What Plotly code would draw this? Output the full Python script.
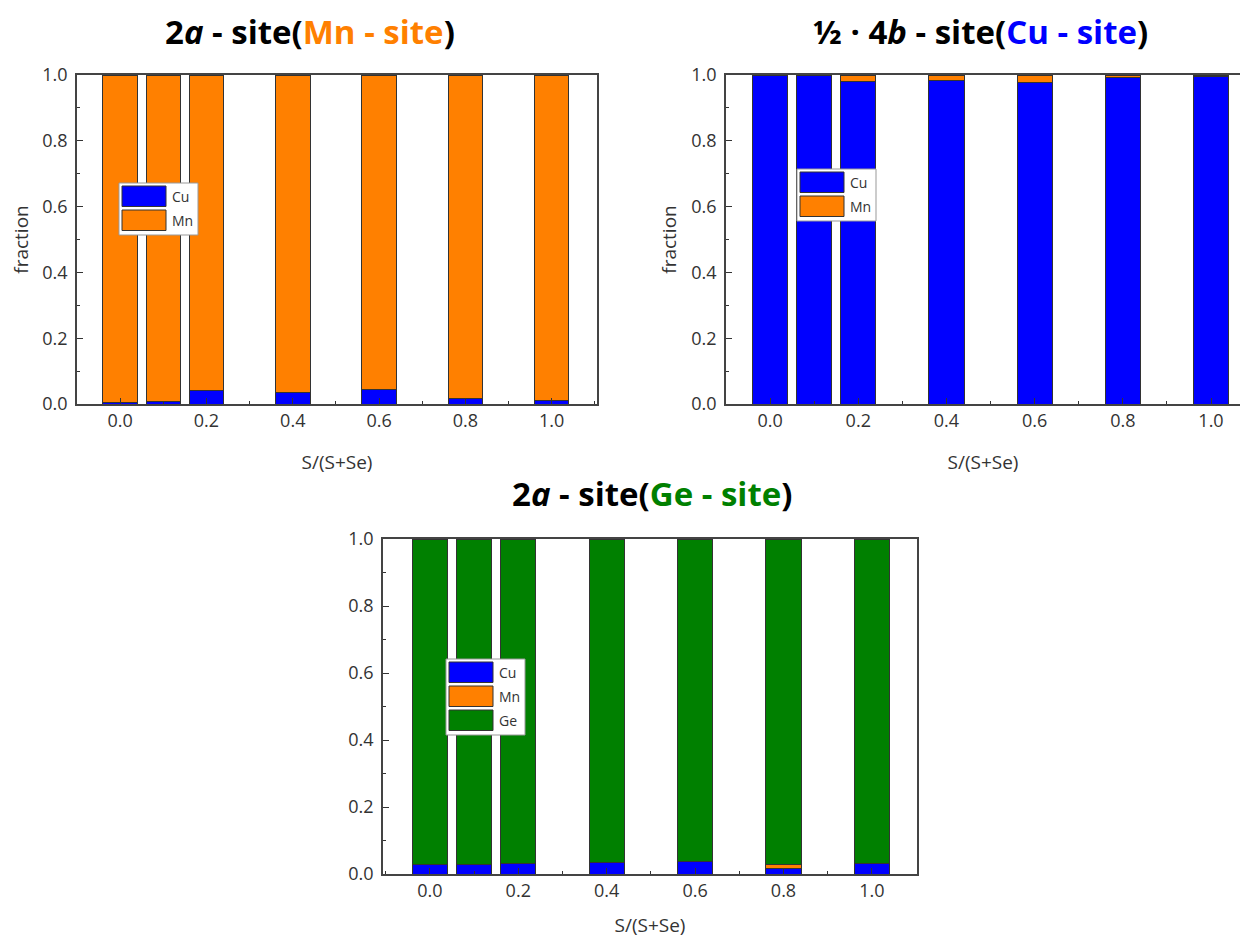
import plotly.graph_objects as go

# ---------------- data ----------------
s_ratio = [0.0, 0.1, 0.2, 0.4, 0.6, 0.8, 1.0]

# 2a site (Mn site)
mn_site_cu = [0.006, 0.007, 0.040, 0.035, 0.043, 0.016, 0.010]
mn_site_mn = [0.994, 0.993, 0.960, 0.965, 0.957, 0.984, 0.990]

# 1/2 * 4b site (Cu site)
cu_site_cu = [0.998, 0.997, 0.981, 0.982, 0.978, 0.991, 0.995]
cu_site_mn = [0.002, 0.003, 0.019, 0.018, 0.022, 0.009, 0.005]

# 2a site (Ge site)
ge_site_cu = [0.029, 0.028, 0.031, 0.033, 0.036, 0.017, 0.031]
ge_site_mn = [0.000, 0.000, 0.000, 0.000, 0.000, 0.010, 0.000]
ge_site_ge = [0.971, 0.972, 0.969, 0.967, 0.964, 0.973, 0.969]

tick_vals = [0.0, 0.2, 0.4, 0.6, 0.8, 1.0]

BLUE = "#0000FF"
ORANGE = "#FF8000"
GREEN = "#008000"
FONT = "Open Sans"
TXT = "#333333"

# the page body has an 8px margin; the figure fits exactly inside it
OFF = 8
W, H = 1232, 930


def fx(px):
    return (px - OFF) / W


def fy(py):
    return 1 - (py - OFF) / H


def px_x(a, b):
    return [max(fx(a), 0.0), min(fx(b), 1.0)]


def px_y(top, bot):
    return [fy(bot), fy(top)]


fig = go.Figure()


def add_bar(x, y, name, color, xa, ya):
    fig.add_trace(go.Bar(
        x=x, y=y, name=name, width=0.08, showlegend=False,
        marker=dict(color=color, line=dict(color="#333333", width=1)),
        xaxis=xa, yaxis=ya,
    ))


add_bar(s_ratio, mn_site_cu, "Cu", BLUE, "x", "y")
add_bar(s_ratio, mn_site_mn, "Mn", ORANGE, "x", "y")

add_bar(s_ratio, cu_site_cu, "Cu", BLUE, "x2", "y2")
add_bar(s_ratio, cu_site_mn, "Mn", ORANGE, "x2", "y2")

add_bar(s_ratio, ge_site_cu, "Cu", BLUE, "x3", "y3")
add_bar(s_ratio, ge_site_mn, "Mn", ORANGE, "x3", "y3")
add_bar(s_ratio, ge_site_ge, "Ge", GREEN, "x3", "y3")

axis_common = dict(
    showline=True, linecolor="#444444", linewidth=1.5,
    ticks="inside", ticklen=6, tickcolor="#333333", tickwidth=1.2,
    showgrid=False, zeroline=False, automargin=False,
    tickfont=dict(family=FONT, size=18, color=TXT),
    tickformat=".1f",
)


def xaxis(domain, rng, anchor, standoff, mirror=True):
    return dict(axis_common, domain=domain, range=rng, anchor=anchor,
                tickvals=tick_vals, mirror=mirror,
                minor=dict(dtick=0.1, tick0=0, ticks="inside", ticklen=3,
                           tickcolor="#333333"),
                title=dict(text="S/(S+Se)", font=dict(family=FONT, size=19, color=TXT),
                           standoff=standoff))


def yaxis(domain, anchor, mirror=True, title="fraction"):
    return dict(axis_common, domain=domain, range=[0, 1], anchor=anchor,
                dtick=0.2, mirror=mirror, ticklabelstandoff=4,
                minor=dict(dtick=0.1, ticks="inside", ticklen=3, tickcolor="#333333"),
                title=dict(text=title, font=dict(family=FONT, size=19, color=TXT),
                           standoff=10))


# right edge of panel 2 is cut by the canvas: compute its visible data limit
p2_x0, p2_unit = 770.0, 441.0
p2_right = (OFF + W - p2_x0) / p2_unit

fig.update_layout(
    width=W, height=H,
    margin=dict(l=0, r=0, t=0, b=0),
    paper_bgcolor="white", plot_bgcolor="white",
    barmode="stack",
    xaxis=xaxis(px_x(77, 597), [-0.1, 1.105], "y", 24),
    yaxis=yaxis(px_y(75, 404), "x"),
    xaxis2=xaxis(px_x(726, OFF + W), [-0.1, p2_right], "y2", 24),
    yaxis2=yaxis(px_y(75, 404), "x2", mirror=False),
    xaxis3=xaxis(px_x(383, 917), [-0.106, 1.102], "y3", 34),
    yaxis3=yaxis(px_y(539, 874), "x3", title=""),
)


# ---------------- legends (boxed, wide colour patches) ----------------
def add_legend(x0, y0, items):
    pitch = 24
    box_w = 79
    box_h = 3 + pitch * len(items) + 1
    fig.add_shape(type="rect", xref="paper", yref="paper",
                  x0=fx(x0), x1=fx(x0 + box_w),
                  y0=fy(y0 + box_h), y1=fy(y0),
                  fillcolor="white", line=dict(color="#999999", width=1), layer="above")
    for i, (name, color) in enumerate(items):
        top = y0 + 3 + i * pitch
        fig.add_shape(type="rect", xref="paper", yref="paper",
                      x0=fx(x0 + 3), x1=fx(x0 + 47),
                      y0=fy(top + 20.5), y1=fy(top),
                      fillcolor=color, line=dict(color="#333333", width=1), layer="above")
        fig.add_annotation(x=fx(x0 + 51), y=fy(top + 10.5), xref="paper", yref="paper",
                           text=name, showarrow=False, xanchor="left", yanchor="middle",
                           font=dict(family=FONT, size=14, color=TXT))


add_legend(119, 183, [("Cu", BLUE), ("Mn", ORANGE)])
add_legend(797, 169, [("Cu", BLUE), ("Mn", ORANGE)])
add_legend(446, 659, [("Cu", BLUE), ("Mn", ORANGE), ("Ge", GREEN)])

# ---------------- titles ----------------
title_font = dict(family=FONT, size=33, color="black")
titles = [
    (310, 32, "<b>2<i>a</i> - site(<span style='color:%s'>Mn - site</span>)</b>" % ORANGE),
    (980, 32, "<b>½ · 4<i>b</i> - site(<span style='color:%s'>Cu - site</span>)</b>" % BLUE),
    (652, 493, "<b>2<i>a</i> - site(<span style='color:%s'>Ge - site</span>)</b>" % GREEN),
]
for cx, cy, txt in titles:
    fig.add_annotation(x=fx(cx), y=fy(cy), xref="paper", yref="paper",
                       text=txt, showarrow=False, font=title_font,
                       xanchor="center", yanchor="middle")

fig.write_html("out.html")
